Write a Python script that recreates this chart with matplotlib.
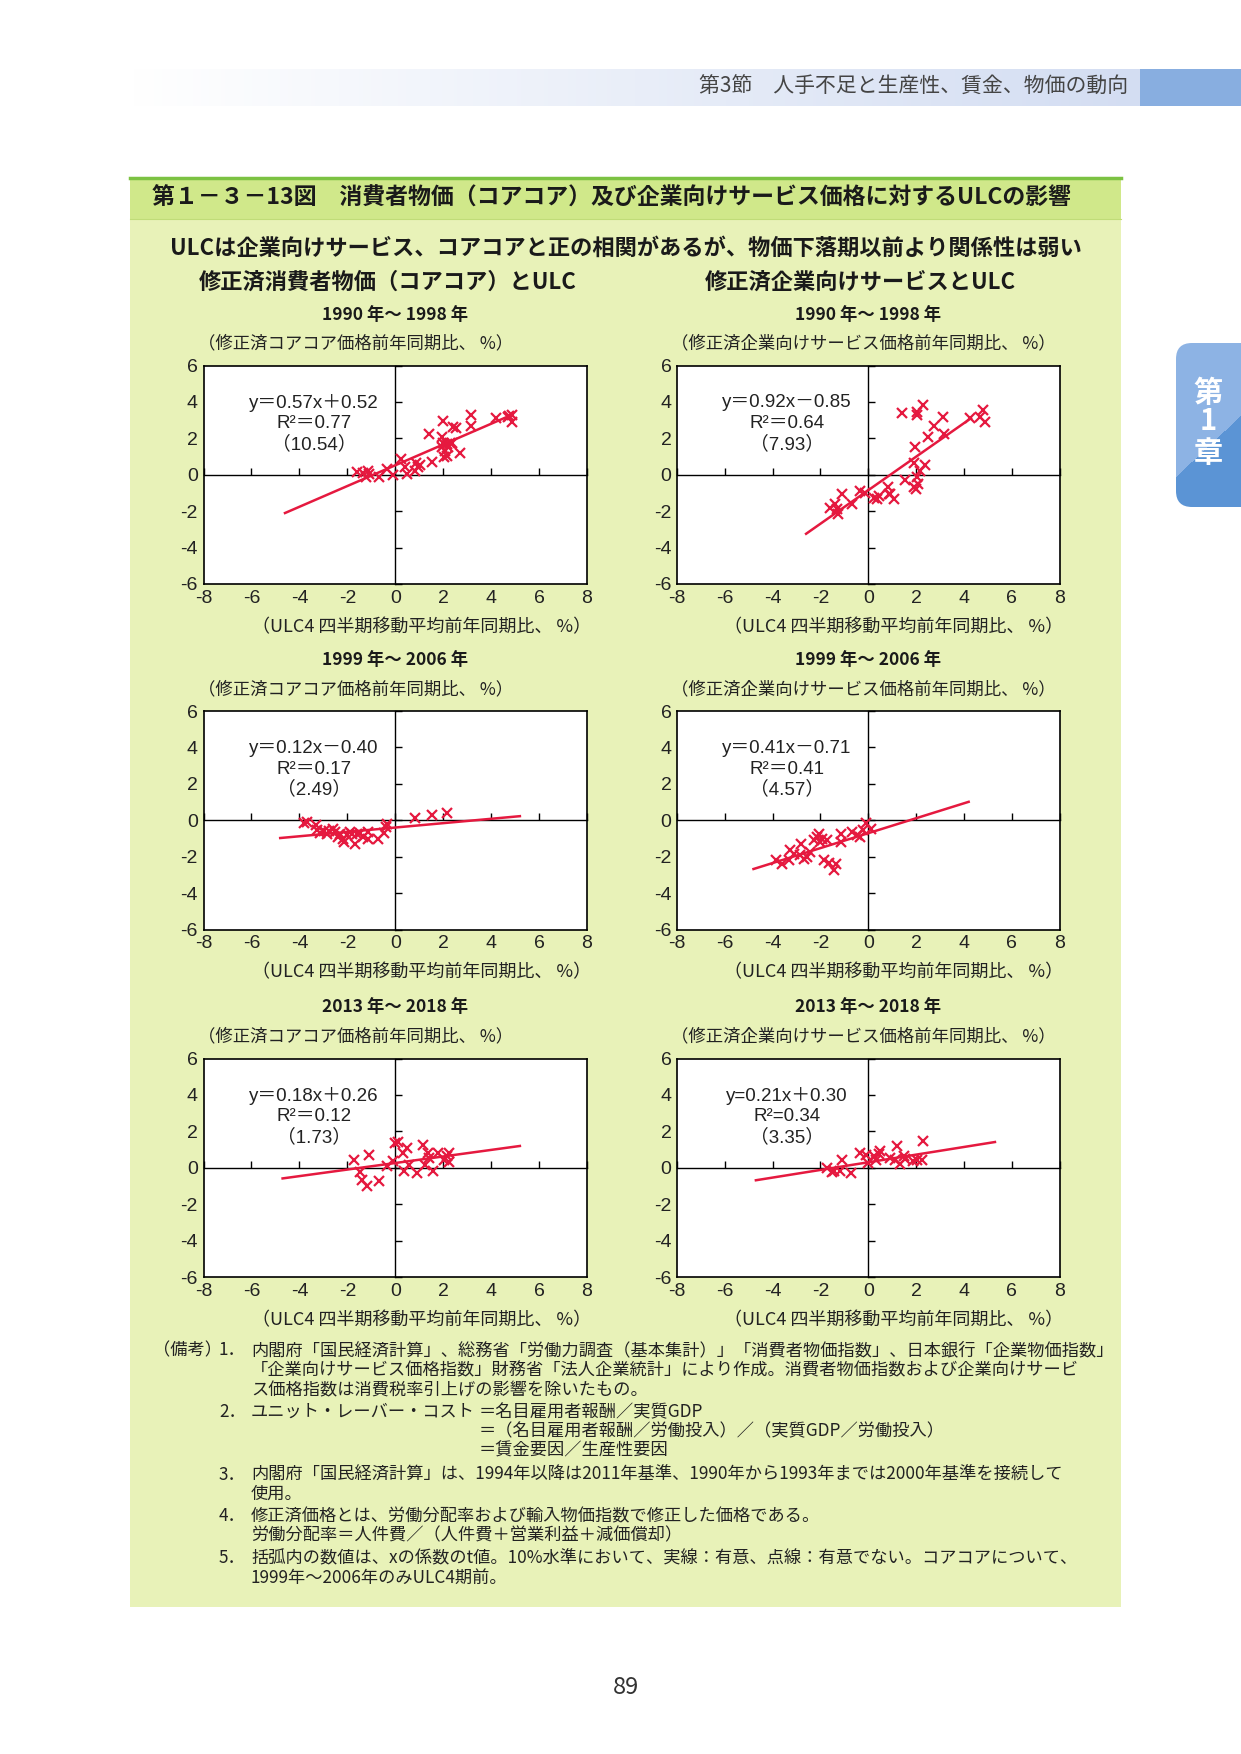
import numpy as np
import matplotlib
matplotlib.use("Agg")
import matplotlib.pyplot as plt
from matplotlib.patches import Rectangle, FancyBboxPatch
from matplotlib.colors import LinearSegmentedColormap

plt.rcParams['font.family'] = ['Noto Sans CJK JP', 'DejaVu Sans']
plt.rcParams['axes.unicode_minus'] = False

# ---- データ----
core_90_x = [-1.61, -1.36, -1.22, -1.12, -1.08, -0.67, -0.36, -0.08, 0.26, 0.40, 0.47, 0.82, 0.86, 0.96,
             1.03, 1.54, 1.42, 1.93, 2.00, 2.00, 1.93, 2.07, 2.14, 2.20, 2.28, 2.35, 2.03, 2.14, 2.42,
             2.53, 2.72, 3.14, 3.14, 4.22, 4.75, 4.89, 4.89, 4.70]
core_90_y = [0.13, 0.07, -0.11, 0.22, 0.04, -0.11, 0.31, 0.00, 0.86, 0.44, 0.04, 0.22, 0.62, 0.44,
             0.55, 0.70, 2.23, 2.05, 2.96, 1.77, 1.50, 1.32, 1.68, 1.50, 1.72, 1.77, 0.95, 1.04, 2.60,
             2.56, 1.19, 3.27, 2.69, 3.14, 3.24, 3.29, 2.87, 3.18]

svc_90_x = [-1.59, -1.38, -1.31, -1.28, -1.10, -0.68, -0.36, -0.13, 0.25, 0.36, 0.47, 0.81, 0.85, 0.92,
            1.06, 1.55, 1.41, 1.97, 1.90, 1.90, 2.00, 2.03, 2.03, 2.03, 2.10, 2.17, 2.38, 2.31, 2.48,
            2.73, 3.12, 3.15, 4.26, 4.68, 4.82, 4.89]
svc_90_y = [-1.80, -1.61, -1.89, -2.17, -1.06, -1.61, -0.88, -1.01, -1.25, -1.34, -1.16, -0.70, -1.03,
            -1.06, -1.34, -0.29, 3.38, 1.54, 0.62, -0.70, -0.79, -0.15, 3.43, 3.30, -0.51, 0.22, 0.55,
            3.85, 2.06, 2.70, 3.19, 2.24, 3.12, 3.19, 3.56, 2.88]

core_99_x = [-3.81, -3.69, -3.31, -3.28, -3.14, -2.97, -2.86, -2.75, -2.58, -2.50, -2.38, -2.31, -2.19,
             -2.14, -2.03, -1.89, -1.82, -1.68, -1.58, -1.47, -1.36, -1.13, -1.13, -0.71, -0.47, -0.39,
             -0.33, 0.82, 1.54, 2.17]
core_99_y = [-0.15, -0.09, -0.28, -0.55, -0.70, -0.59, -0.77, -0.59, -0.46, -0.64, -0.92, -0.73, -1.01,
             -1.19, -0.83, -0.64, -0.73, -1.32, -0.77, -0.70, -0.92, -1.01, -0.64, -1.01, -0.70, -0.37,
             -0.22, 0.15, 0.28, 0.40]

svc_99_x = [-3.85, -3.61, -3.33, -3.29, -3.09, -2.87, -2.82, -2.70, -2.56, -2.43, -2.29, -2.15, -2.08,
            -2.01, -1.94, -1.73, -1.87, -1.66, -1.45, -1.34, -1.14, -1.14, -0.68, -0.47, -0.36, -0.20,
            -0.08, 0.11]
svc_99_y = [-2.20, -2.42, -2.20, -1.65, -1.83, -1.93, -1.28, -2.11, -2.02, -1.74, -1.10, -0.92, -0.73,
            -1.19, -1.01, -1.10, -2.20, -2.35, -2.75, -2.39, -1.19, -0.77, -0.64, -0.83, -0.92, -0.51,
            -0.15, -0.46]

core_13_x = [-1.72, -1.08, -1.47, -1.40, -1.17, -0.68, -0.33, -0.11, -0.01, 0.13, 0.31, 0.47, 0.36,
             0.58, 0.92, 1.17, 1.24, 1.38, 1.42, 1.56, 1.79, 2.03, 2.14, 2.25, 2.25]
core_13_y = [0.44, 0.71, -0.26, -0.66, -0.99, -0.71, 0.07, 0.35, 1.36, 1.39, 0.81, 1.08, -0.20, 0.16,
             -0.29, 1.26, 0.16, 0.81, 0.53, -0.20, 0.81, 0.44, 0.62, 0.81, 0.29]

svc_13_x = [-1.73, -1.52, -1.42, -1.20, -1.10, -0.72, -0.33, -0.08, 0.01, 0.22, 0.33, 0.43, 0.50, 0.89,
            1.13, 1.20, 1.31, 1.48, 1.55, 1.87, 2.03, 2.24, 2.29]
svc_13_y = [0.00, -0.24, -0.18, -0.18, 0.42, -0.27, 0.79, 0.68, 0.27, 0.64, 0.42, 0.73, 0.92, 0.55,
            0.42, 1.19, 0.18, 0.64, 0.49, 0.37, 0.42, 0.42, 1.47]

slopes = [0.57, 0.92, 0.12, 0.41, 0.18, 0.21]
intercepts = [0.52, -0.85, -0.40, -0.71, 0.26, 0.30]
line_x = [[-4.6, 4.8], [-2.6, 4.3], [-4.8, 5.2], [-4.8, 4.2], [-4.7, 5.2], [-4.7, 5.3]]
eq_labels = ["y＝0.57x＋0.52", "y＝0.92x－0.85", "y＝0.12x－0.40",
             "y＝0.41x－0.71", "y＝0.18x＋0.26", "y=0.21x＋0.30"]
r2_labels = ["R²＝0.77", "R²＝0.64", "R²＝0.17", "R²＝0.41", "R²＝0.12", "R²=0.34"]
t_labels = ["（10.54）", "（7.93）", "（2.49）", "（4.57）", "（1.73）", "（3.35）"]
periods = ["1990 年～ 1998 年", "1999 年～ 2006 年", "2013 年～ 2018 年"]
y_titles = ["（修正済コアコア価格前年同期比、 %）", "（修正済企業向けサービス価格前年同期比、 %）"]
x_title = "（ULC4 四半期移動平均前年同期比、 %）"
x_ticks = [-8, -6, -4, -2, 0, 2, 4, 6, 8]
y_ticks = [-6, -4, -2, 0, 2, 4, 6]

panels = [(core_90_x, core_90_y), (svc_90_x, svc_90_y),
          (core_99_x, core_99_y), (svc_99_x, svc_99_y),
          (core_13_x, core_13_y), (svc_13_x, svc_13_y)]

RED = '#e5193f'
W, H = 1241, 1754
fig = plt.figure(figsize=(W / 100, H / 100), dpi=100)
fig.patch.set_facecolor('white')

# fond (coordonnées en pixels)
bg = fig.add_axes([0, 0, 1, 1])
bg.axis('off')

# bandeau du haut
grad = np.linspace(0, 1, 256).reshape(1, -1)
bg.imshow(grad, extent=[130, 1140, 106, 69], aspect='auto',
          cmap=LinearSegmentedColormap.from_list('hd', ['#ffffff', '#d3ddf2']))
bg.add_patch(Rectangle((1140, 69), 101, 37, fc='#88aee0', ec='none'))
bg.text(1128, 87, "第3節　人手不足と生産性、賃金、物価の動向", ha='right', va='center',
        fontsize=15, color='#444444')

# onglet chapitre
tab = FancyBboxPatch((1176, 343), 90, 164, boxstyle="round,pad=0,rounding_size=16",
                     fc='none', ec='none')
bg.add_patch(tab)
yy, xx = np.mgrid[0:165, 0:66]
split = (yy + 0.94 * xx > 135).astype(float)
im = bg.imshow(split, extent=[1175, 1241, 507, 342], aspect='auto',
               cmap=LinearSegmentedColormap.from_list('tb', ['#8db3e4', '#5b94d5']))
im.set_clip_path(tab)
for ch, yc in zip(["第", "1", "章"], [393, 421, 453]):
    bg.text(1208, yc, ch, ha='center', va='center', fontsize=21, fontweight='bold', color='white')

# panneau vert
bg.add_patch(Rectangle((130, 177), 991, 1430, fc='#e8f2b8', ec='none'))
bg.add_patch(Rectangle((130, 177), 991, 42, fc='#d0e88a', ec='none'))
bg.plot([130, 1121], [178, 178], color='#7cc242', lw=2.5)
bg.plot([130, 1121], [219, 219], color='#c0dc78', lw=0.8)
bg.text(152, 198, "第１－３－13図　消費者物価（コアコア）及び企業向けサービス価格に対するULCの影響",
        ha='left', va='center', fontsize=16.5, fontweight='bold', color='#1a1a1a')
bg.text(626, 248, "ULCは企業向けサービス、コアコアと正の相関があるが、物価下落期以前より関係性は弱い",
        ha='center', va='center', fontsize=16, fontweight='bold', color='#1a1a1a')
bg.text(388, 282, "修正済消費者物価（コアコア）とULC", ha='center', va='center',
        fontsize=16, fontweight='bold', color='#1a1a1a')
bg.text(860, 282, "修正済企業向けサービスとULC", ha='center', va='center',
        fontsize=16, fontweight='bold', color='#1a1a1a')

bg.set_xlim(0, W)
bg.set_ylim(H, 0)

# graphiques
cols = [(203.5, 383.5), (677, 382.5)]
rows = [365.5, 711, 1058.5]
ph = 218.5

for i, (px, py) in enumerate(panels):
    r, c = i // 2, i % 2
    left, w = cols[c]
    top = rows[r]
    rect = [left / W, 1 - (top + ph) / H, w / W, ph / H]

    ax = fig.add_axes(rect)
    ax.set_facecolor('white')
    ax.set_xlim(-8, 8)
    ax.set_ylim(-6, 6)
    ax.set_xticks(x_ticks)
    ax.set_yticks(y_ticks)
    ax.tick_params(length=0, labelsize=14, pad=4, labelcolor='#222222')
    for lab in ax.get_xticklabels() + ax.get_yticklabels():
        lab.set_family(['Liberation Sans', 'DejaVu Sans'])
    for s in ax.spines.values():
        s.set_linewidth(1.2)

    # axes du zéro avec graduations
    ax2 = fig.add_axes(rect)
    ax2.patch.set_visible(False)
    ax2.set_xlim(-8, 8)
    ax2.set_ylim(-6, 6)
    ax2.set_xticks(x_ticks)
    ax2.set_yticks(y_ticks)
    ax2.spines['top'].set_visible(False)
    ax2.spines['right'].set_visible(False)
    ax2.spines['left'].set_position(('data', 0))
    ax2.spines['bottom'].set_position(('data', 0))
    ax2.spines['left'].set_linewidth(1.0)
    ax2.spines['bottom'].set_linewidth(1.0)
    ax2.tick_params(direction='in', length=5, width=1.0, labelleft=False, labelbottom=False)

    lx = np.array(line_x[i])
    ax2.plot(lx, slopes[i] * lx + intercepts[i], color=RED, lw=1.8, zorder=3)
    ax2.plot(px, py, linestyle='none', marker='x', ms=6.5, mew=1.6, color=RED, zorder=4)

    fam = ['Liberation Sans', 'Noto Sans CJK JP']
    ax2.text(-3.4, 3.95, eq_labels[i], ha='center', va='center', fontsize=13.5, family=fam, color='#222222')
    ax2.text(-3.4, 2.8, r2_labels[i], ha='center', va='center', fontsize=13.5, family=fam, color='#222222')
    ax2.text(-3.4, 1.7, t_labels[i], ha='center', va='center', fontsize=13.5, family=fam, color='#222222')

    # titres autour du graphique
    bg.text(left + w / 2, top - 51, periods[r], ha='center', va='center',
            fontsize=12.5, fontweight='bold', color='#1a1a1a')
    bg.text(left - 6, top - 22, y_titles[c], ha='left', va='center', fontsize=12.5, color='#222222')
    bg.text(left + w + 4, top + ph + 43, x_title, ha='right', va='center', fontsize=13, color='#222222')

# notes
notes = [
    (153, 1350, "（備考）"),
    (219, 1350, "1．"),
    (251, 1350, "内閣府「国民経済計算」、総務省「労働力調査（基本集計）」「消費者物価指数」、日本銀行「企業物価指数」"),
    (251, 1370, "「企業向けサービス価格指数」財務省「法人企業統計」により作成。消費者物価指数および企業向けサービ"),
    (251, 1390, "ス価格指数は消費税率引上げの影響を除いたもの。"),
    (219, 1412, "2．"),
    (251, 1412, "ユニット・レーバー・コスト"),
    (479, 1412, "＝名目雇用者報酬／実質GDP"),
    (479, 1431, "＝（名目雇用者報酬／労働投入）／（実質GDP／労働投入）"),
    (479, 1451, "＝賃金要因／生産性要因"),
    (219, 1475, "3．"),
    (251, 1475, "内閣府「国民経済計算」は、1994年以降は2011年基準、1990年から1993年までは2000年基準を接続して"),
    (251, 1494, "使用。"),
    (219, 1516, "4．"),
    (251, 1516, "修正済価格とは、労働分配率および輸入物価指数で修正した価格である。"),
    (251, 1535, "労働分配率＝人件費／（人件費＋営業利益＋減価償却）"),
    (219, 1558, "5．"),
    (251, 1558, "括弧内の数値は、xの係数のt値。10%水準において、実線：有意、点線：有意でない。コアコアについて、"),
    (251, 1578, "1999年～2006年のみULC4期前。"),
]
for x, y, t in notes:
    bg.text(x, y, t, ha='left', va='center', fontsize=12.4, color='#222222')

bg.text(626, 1688, "89", ha='center', va='center', fontsize=17, color='#333333')

fig.savefig("out.png", dpi=100, facecolor=fig.get_facecolor())
